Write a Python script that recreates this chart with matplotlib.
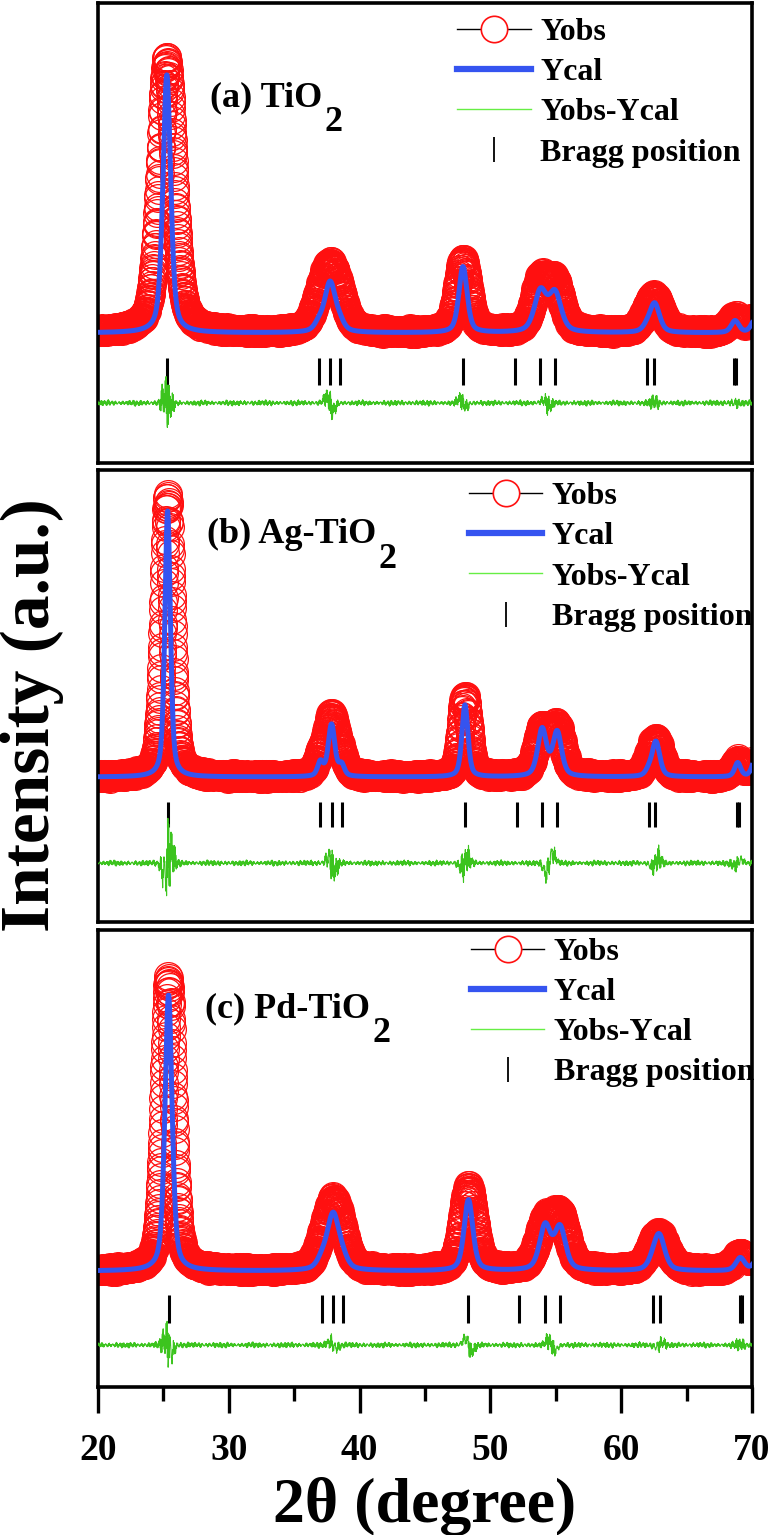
import numpy as np
import matplotlib.pyplot as plt
from matplotlib.lines import Line2D

plt.rcParams["font.family"] = ["Liberation Serif", "DejaVu Serif"]
plt.rcParams["font.weight"] = "bold"

two_theta = np.arange(20.0, 70.0001, 0.02)

panel_names = ["(a) TiO", "(b) Ag-TiO", "(c) Pd-TiO"]

# Bragg reflections (2theta)
bragg_a = [25.26, 36.87, 37.74, 38.51, 47.90, 51.85, 53.82, 54.94, 61.94, 62.50, 68.65, 68.80]
bragg_b = [25.32, 37.00, 37.85, 38.62, 48.05, 52.00, 53.95, 55.10, 62.15, 62.60, 68.85, 69.00]
bragg_c = [25.39, 37.10, 37.97, 38.73, 48.32, 52.21, 54.18, 55.32, 62.41, 62.97, 69.08, 69.24]

# calculated pattern: peak centre, height above background, fwhm
cal_pos_a = [25.26, 36.87, 37.74, 38.51, 47.90, 53.82, 54.94, 61.94, 62.55, 68.70, 70.25]
cal_h_a = [258, 7, 50, 7, 66, 40, 38, 4, 29, 12, 14]
cal_w_a = [0.7, 0.8, 1.0, 0.8, 0.75, 1.1, 1.1, 0.8, 0.9, 0.7, 0.7]

cal_pos_b = [25.32, 37.00, 37.85, 38.62, 48.05, 53.95, 55.10, 62.10, 62.65, 68.90, 70.30]
cal_h_b = [266, 14, 52, 11, 72, 47, 44, 5, 35, 14, 22]
cal_w_b = [0.5, 0.5, 0.6, 0.5, 0.55, 0.8, 0.8, 0.6, 0.7, 0.55, 0.6]

cal_pos_c = [25.39, 37.10, 37.97, 38.73, 48.32, 54.18, 55.32, 62.41, 62.90, 69.10, 70.40]
cal_h_c = [276, 8, 56, 8, 71, 44, 42, 5, 35, 13, 12]
cal_w_c = [0.65, 0.9, 1.1, 0.9, 0.8, 1.0, 1.0, 0.9, 1.0, 0.8, 0.7]

# observed pattern (same reflections, read from the red circles)
obs_h_a = [272, 13, 60, 13, 72, 47, 45, 5, 34, 14, 16]
obs_w_a = [1.3, 1.3, 1.6, 1.3, 1.1, 1.3, 1.3, 1.2, 1.4, 1.2, 1.0]
obs_h_b = [280, 15, 58, 13, 80, 45, 47, 5, 35, 15, 20]
obs_w_b = [0.8, 0.8, 1.0, 0.8, 0.8, 1.1, 1.1, 0.9, 1.1, 0.9, 0.8]
obs_h_c = [292, 11, 64, 11, 82, 43, 49, 5, 33, 16, 13]
obs_w_c = [0.9, 1.2, 1.5, 1.2, 1.2, 1.4, 1.4, 1.2, 1.6, 1.2, 0.9]

# difference curve: burst centre, noise amplitude, signed bump
diff_pos_a = [25.26, 37.74, 47.90, 54.30, 62.55, 68.70]
diff_amp_a = [30, 13, 9, 10, 7, 5]
diff_bump_a = [3, 6, 3, 3, 0, 0]
diff_pos_b = [25.32, 37.85, 48.05, 54.50, 62.65, 68.90]
diff_amp_b = [62, 22, 18, 20, 14, 11]
diff_bump_b = [-10, 5, -5, -10, -4, -3]
diff_pos_c = [25.39, 37.97, 48.32, 54.70, 62.90, 69.10]
diff_amp_c = [36, 13, 12, 13, 9, 6]
diff_bump_c = [7, 3, 6, 5, -2, 0]

# layout per panel: y-limits, Bragg row, difference offset
ylims = [(-130, 330), (-145, 307), (-116, 341)]
bragg_rows = [(-52, -25), (-50, -25), (-52, -24)]
diff_offsets = [-70, -86, -74]

red = "#FF1010"
blue = "#3554F0"
green = "#3CC41E"


def profile(x, pos, h, w, eta=0.5):
    d = x[:, None] - np.asarray(pos)[None, :]
    hw = np.asarray(w) / 2.0
    lor = 1.0 / (1.0 + (d / hw) ** 2)
    gau = np.exp(-np.log(2) * (d / hw) ** 2)
    return ((eta * lor + (1 - eta) * gau) * np.asarray(h)).sum(axis=1)


def jitter(x, k):
    return (np.sin(x * 211.7 + k) + 0.8 * np.sin(x * 337.1 + 2.3 * k)
            + 0.6 * np.sin(x * 523.3 + 3.1 * k) + 0.5 * np.sin(x * 89.9 + 5.7 * k)) / 2.9


def difference(x, pos, amp, bump, k):
    env = 3.4 + sum(a * np.exp(-((x - p) / 0.45) ** 2) for p, a in zip(pos, amp))
    shape = sum(-b * 1.65 * (x - p) / 0.25 * np.exp(-0.5 * ((x - p) / 0.25) ** 2)
                for p, b in zip(pos, bump))
    return env * jitter(x, k) + shape


panels = [
    (cal_pos_a, cal_h_a, cal_w_a, obs_h_a, obs_w_a, bragg_a, diff_pos_a, diff_amp_a, diff_bump_a),
    (cal_pos_b, cal_h_b, cal_w_b, obs_h_b, obs_w_b, bragg_b, diff_pos_b, diff_amp_b, diff_bump_b),
    (cal_pos_c, cal_h_c, cal_w_c, obs_h_c, obs_w_c, bragg_c, diff_pos_c, diff_amp_c, diff_bump_c),
]

fig = plt.figure(figsize=(7.75, 15.35), dpi=100)
boxes = [(0.1265, 0.6984, 0.8439, 0.2997),
         (0.1265, 0.3993, 0.8439, 0.2945),
         (0.1265, 0.0964, 0.8439, 0.2977)]
label_pos = [(0.171, 0.776), (0.167, 0.8385), (0.164, 0.81)]
legend_pos = [(0.549, 0.968), (0.567, 0.974), (0.570, 0.984)]

handles = [
    Line2D([], [], color="black", lw=1.0, marker="o", ms=19, mfc="white", mec=red, mew=1.2),
    Line2D([], [], color=blue, lw=4.5),
    Line2D([], [], color="#66EE44", lw=1.0),
    Line2D([], [], color="black", ls="none", marker="|", ms=18, mew=1.3),
]
names = ["Yobs", "Ycal", "Yobs-Ycal", "Bragg position"]

for i, (cp, ch, cw, oh, ow, br, dp, da, db) in enumerate(panels):
    ax = fig.add_axes(boxes[i])
    ycal = profile(two_theta, cp, ch, cw)
    yobs = profile(two_theta, cp, oh, ow)
    yobs = yobs + (3.0 + 0.02 * yobs) * jitter(two_theta, 3.0 + i)
    ydiff = diff_offsets[i] + difference(two_theta, dp, da, db, 1.0 + i)

    ax.plot(two_theta, yobs, ls="none", marker="o", ms=20, mfc="none", mec=red, mew=0.9, zorder=2)
    ax.plot(two_theta, ycal, color=blue, lw=3.6, zorder=3)
    ax.vlines(br, bragg_rows[i][0], bragg_rows[i][1], color="black", lw=2.2, zorder=3)
    ax.plot(two_theta, ydiff, color=green, lw=0.8, zorder=3)

    ax.set_xlim(20, 70)
    ax.set_ylim(*ylims[i])
    ax.set_yticks([])
    for s in ax.spines.values():
        s.set_linewidth(2.6)

    t = ax.text(label_pos[i][0], label_pos[i][1], panel_names[i], transform=ax.transAxes,
                fontsize=26, fontweight="bold", ha="left", va="baseline")
    ax.annotate("2", xy=(1, 0), xycoords=t, xytext=(1.5, 6), textcoords="offset points",
                fontsize=26, fontweight="bold", ha="left", va="top")

    ax.legend(handles, names, loc="upper left", bbox_to_anchor=legend_pos[i], frameon=False,
              handlelength=2.3, handletextpad=0.3, labelspacing=0.34,
              borderpad=0, borderaxespad=0, prop={"weight": "bold", "size": 23})

    if i < 2:
        ax.tick_params(axis="x", bottom=False, labelbottom=False)
    else:
        ax.set_xticks([20, 30, 40, 50, 60, 70])
        ax.set_xticks([25, 35, 45, 55, 65], minor=True)
        ax.tick_params(axis="x", which="major", direction="out", length=19, width=2.4,
                       pad=14, labelsize=27)
        ax.tick_params(axis="x", which="minor", direction="out", length=10, width=2.4)
        for lab in ax.get_xticklabels():
            lab.set_fontweight("bold")

fig.text(0.5484, 1 - 1506 / 1535, "2\u03b8 (degree)", ha="center", va="center",
         fontsize=46, fontweight="bold")
fig.text(32 / 775, 1 - 715 / 1535, "Intensity (a.u.)", ha="center", va="center",
         rotation=90, fontsize=50, fontweight="bold")

fig.savefig("out.png", dpi=100)
